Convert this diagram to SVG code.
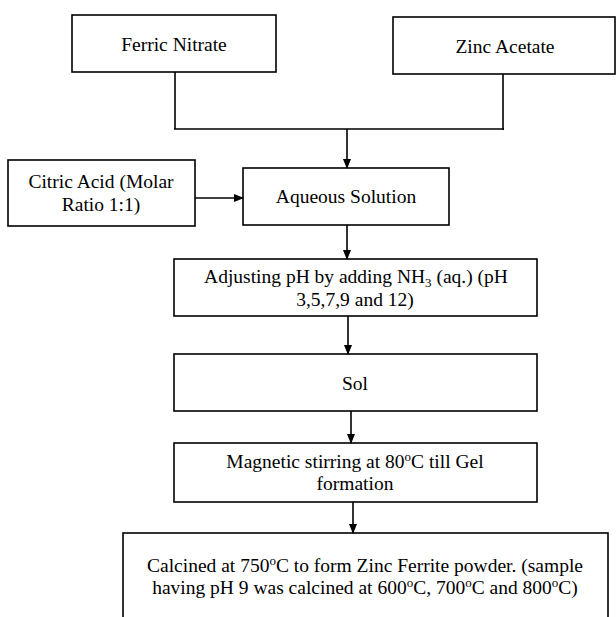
<svg xmlns="http://www.w3.org/2000/svg" width="616" height="617" viewBox="0 0 616 617">
<style>
.box{fill:#fff;stroke:#000;stroke-width:1.6}
.t{font-family:"Liberation Serif","Times New Roman",serif;font-size:19.5px;fill:#000;text-anchor:middle}
.c{fill:none;stroke:#000;stroke-width:1.6}
</style>
<defs>
<marker id="ah" markerWidth="10" markerHeight="10" refX="9" refY="5" orient="auto" markerUnits="userSpaceOnUse">
<path d="M0,1 L10,5 L0,9 Z" fill="#000"/>
</marker>
</defs>
<rect width="616" height="617" fill="#fff"/>
<g id="ferric"><rect class="box" x="72" y="15" width="204" height="57"/><text class="t" x="174" y="51">Ferric Nitrate</text></g>
<g id="zinc"><rect class="box" x="393" y="17" width="222" height="57"/><text class="t" x="505" y="53">Zinc Acetate</text></g>
<g id="citric"><rect class="box" x="8" y="160" width="187" height="66"/><text class="t" x="101" y="188">Citric Acid (Molar</text><text class="t" x="101" y="211">Ratio 1:1)</text></g>
<g id="aqueous"><rect class="box" x="243" y="168" width="206" height="57"/><text class="t" x="346" y="203">Aqueous Solution</text></g>
<g id="adjust"><rect class="box" x="174" y="259" width="363" height="57"/><text class="t" x="356" y="283">Adjusting pH by adding NH<tspan font-size="13" dy="4">3</tspan><tspan dy="-4"> (aq.) (pH</tspan></text><text class="t" x="355" y="306">3,5,7,9  and 12)</text></g>
<g id="sol"><rect class="box" x="174" y="354" width="363" height="57"/><text class="t" x="355" y="390">Sol</text></g>
<g id="magnetic"><rect class="box" x="174" y="443" width="363" height="59"/><text class="t" x="355" y="468">Magnetic stirring at 80<tspan font-size="13" dy="-7">o</tspan><tspan dy="7">C till  Gel</tspan></text><text class="t" x="355" y="490">formation</text></g>
<g id="calcined"><rect class="box" x="123" y="533" width="485" height="100"/><text class="t" x="365" y="572">Calcined at 750<tspan font-size="13" dy="-7">o</tspan><tspan dy="7">C to form Zinc Ferrite powder. (sample</tspan></text><text class="t" x="365" y="594">having pH 9 was calcined at 600<tspan font-size="13" dy="-7">o</tspan><tspan dy="7">C, 700</tspan><tspan font-size="13" dy="-7">o</tspan><tspan dy="7">C and 800</tspan><tspan font-size="13" dy="-7">o</tspan><tspan dy="7">C)</tspan></text></g>
<g id="connectors">
<path class="c" d="M175,72 V129 M503,74 V130 M174,129 H504"/>
<path class="c" d="M347,129 V168" marker-end="url(#ah)"/>
<path class="c" d="M195,198 V198 H243" marker-end="url(#ah)"/>
<path class="c" d="M347,225 V259" marker-end="url(#ah)"/>
<path class="c" d="M348,316 V354" marker-end="url(#ah)"/>
<path class="c" d="M351,411 V443" marker-end="url(#ah)"/>
<path class="c" d="M353,502 V533" marker-end="url(#ah)"/>
</g>
</svg>
